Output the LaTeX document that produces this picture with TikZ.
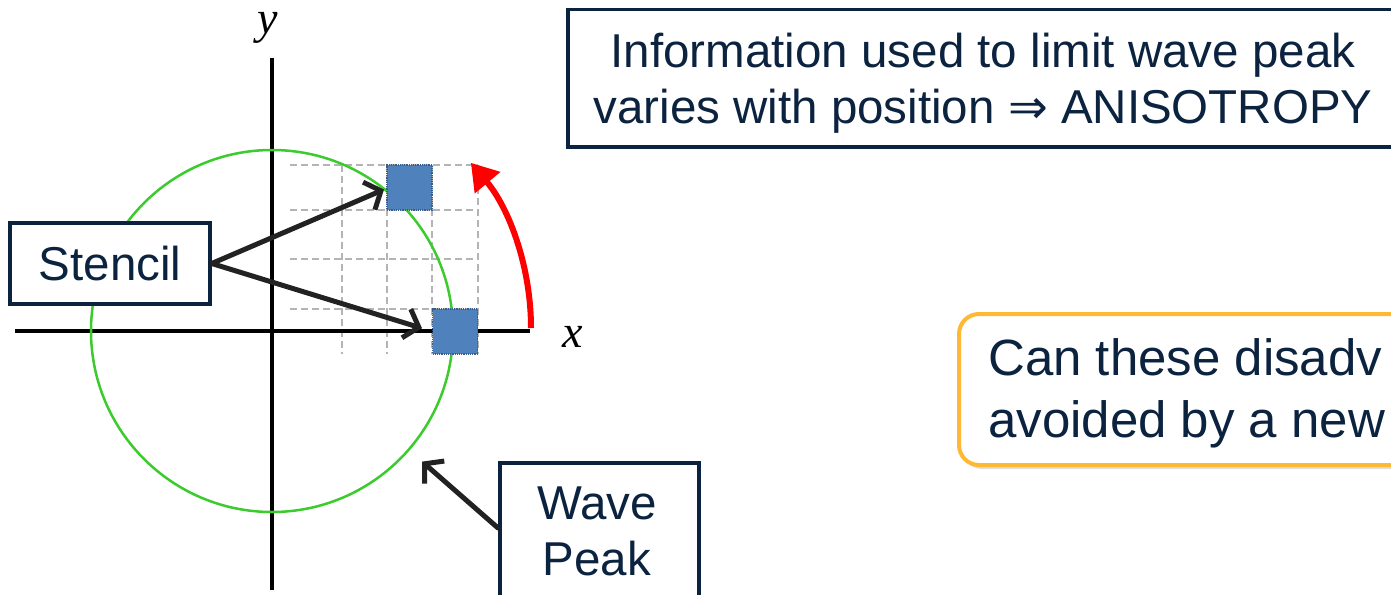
\documentclass[tikz,border=0pt]{standalone}
\usepackage{fontspec}
\setmainfont{Liberation Sans}
\newfontfamily\symfont{DejaVu Sans}
\newfontfamily\axisfont{Liberation Serif}
\usetikzlibrary{arrows.meta,shadows}

\definecolor{navy}{HTML}{0C2340}
\definecolor{wavegreen}{HTML}{3CCB2C}
\definecolor{cellblue}{HTML}{4F81BD}
\definecolor{cellborder}{HTML}{385D8A}
\definecolor{gridgray}{HTML}{B4B4B4}
\definecolor{gold}{HTML}{FDB933}
\definecolor{pointerblack}{HTML}{222222}
\definecolor{sweepred}{HTML}{FF0000}

\tikzset{
  callout/.style={draw=navy, line width=3.5pt, fill=white, inner sep=0pt},
  callouttext/.style={text=navy, font=\fontsize{47.5}{56}\selectfont, align=center, inner sep=0pt},
  pointer/.style={draw=pointerblack, line width=5pt, line cap=round,
    -{Straight Barb[length=13pt,width=30pt]}},
  cell/.style={draw=cellborder, densely dotted, line width=1.2pt, fill=cellblue,
    minimum size=45pt, inner sep=0pt, outer sep=0pt},
  gridline/.style={draw=gridgray, dash pattern=on 7pt off 4pt, line width=2.2pt},
  axis/.style={draw=black, line width=3.5pt},
  axislabel/.style={font=\axisfont\itshape\fontsize{46}{46}\selectfont, inner sep=0pt},
}

\begin{document}
\begin{tikzpicture}[x=1pt,y=-1pt]
\useasboundingbox (0,0) rectangle (1391,594);
\clip (0,0) rectangle (1391,594);

% stencil grid in the first quadrant
\foreach \gy in {165,210,259,309} \draw[gridline] (290,\gy) -- (478,\gy);
\foreach \gx in {342,387,432,478} \draw[gridline] (\gx,165) -- (\gx,354);

% coordinate axes
\draw[axis] (15,331) -- (530,331);
\draw[axis] (272,58) -- (272,590);
\node[axislabel, anchor=base] (ylab) at (268,34) {y};
\node[axislabel, anchor=base] (xlab) at (573,347) {x};

% wave peak circle
\node[draw=wavegreen, line width=2.5pt, circle, minimum size=362pt, inner sep=0pt,
  outer sep=0pt] (wave) at (272,331) {};

% stencil cells
\node[cell] (sq1) at (409.5,187.5) {};
\node[cell] (sq2) at (455,331.5) {};

% rotation of the stencil direction
\draw[sweepred, line width=6pt, -{Triangle[length=26pt,width=32pt]}]
  (531,328) arc[start angle=0, end angle=-40, radius=257];

% Stencil label and its pointers
\node[callout, minimum width=200pt, minimum height=81pt, text=navy,
  font=\fontsize{47.5}{56}\selectfont] (stencil) at (110,263.5) {Stencil};
\draw[pointer] (stencil.east) -- ([xshift=-3pt,yshift=-2pt]sq1.west);
\draw[pointer, shorten >=11pt] (stencil.east) -- (sq2.west);

% Wave Peak label
\node[callout, minimum width=199pt, minimum height=170pt, anchor=north west]
  (peak) at (498,461) {};
\node[callouttext, anchor=base] (peaktext) at (597,575) {Wave\\Peak};
\draw[pointer, shorten >=18pt] ([yshift=-67pt]peak.north west) -- (wave.-41);

% anisotropy statement
\node[callout, minimum width=834pt, minimum height=137pt, anchor=north west]
  (info) at (566,8) {};
\node[callouttext, anchor=base] (infotext) at (983,123)
  {Information used to limit wave peak\\varies with position {\symfont ⇒} ANISOTROPY};

% open question
\node[draw=gold, line width=4pt, rounded corners=20pt, fill=white,
  drop shadow={shadow xshift=3pt, shadow yshift=-4pt, opacity=0.25},
  minimum width=480pt, minimum height=151pt, anchor=north west, inner sep=0pt]
  (question) at (957,312) {};
\node[text=navy, font=\fontsize{51}{62}\selectfont, align=left, inner sep=0pt,
  anchor=base west] (questiontext) at (988,437) {Can these disadv\\avoided by a new};
\end{tikzpicture}
\end{document}
